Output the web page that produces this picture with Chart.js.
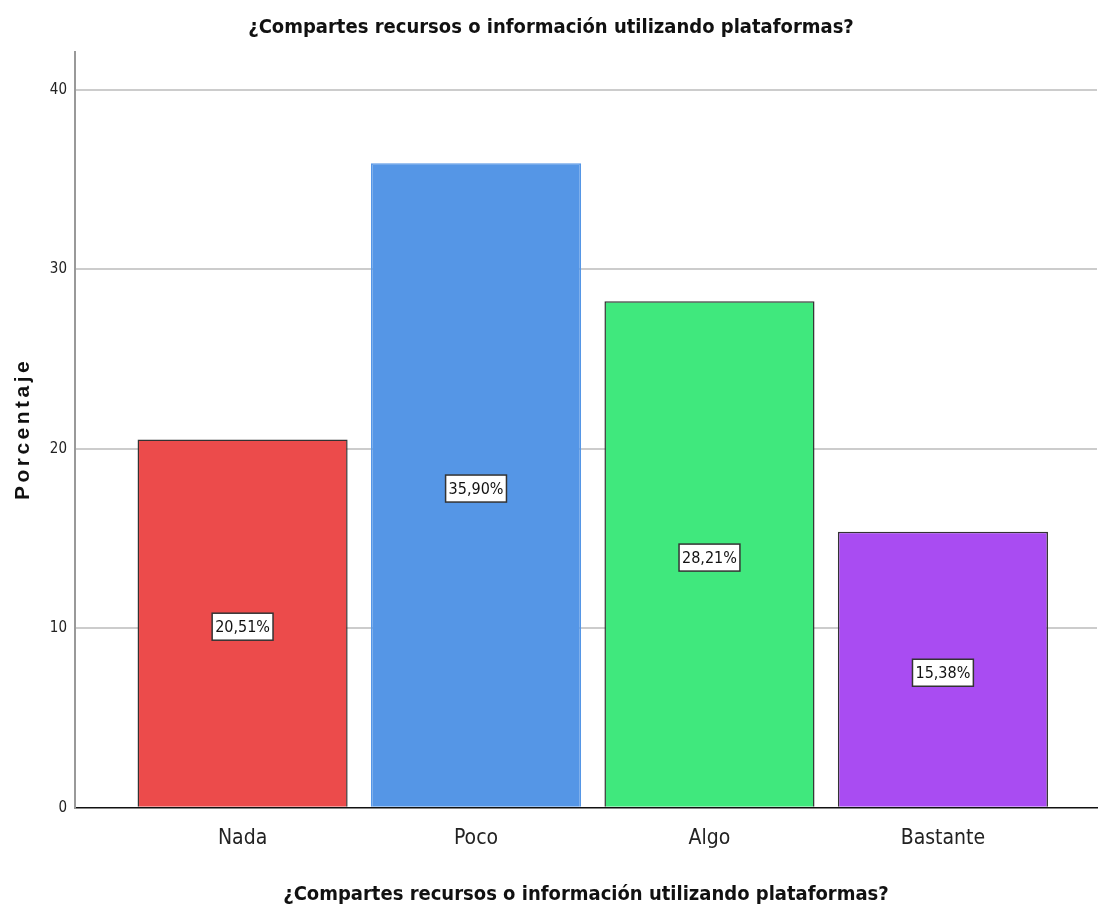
<!DOCTYPE html>
<html>
<head>
<meta charset="utf-8">
<script src="https://cdn.jsdelivr.net/npm/chart.js@4/dist/chart.umd.min.js"></script>
<style>
html,body{margin:0;padding:0;background:#fff;}
#wrap{width:1099px;height:915px;}
</style>
</head>
<body>
<div id="wrap"><canvas id="c" width="1099" height="915"></canvas></div>
<script>
const categories = ["Nada", "Poco", "Algo", "Bastante"];
const percentages = [20.51, 35.90, 28.21, 15.38];
const valueLabels = ["20,51%", "35,90%", "28,21%", "15,38%"];
const yTicks = [0, 10, 20, 30, 40];
const barColors = ["#EC4B4B", "#5596E6", "#40E87D", "#A94CF2"];
const barBorders = ["#333333", "#5596E6", "#333333", "#333333"];
const titleText = "¿Compartes recursos o información utilizando plataformas?";
const yTitleText = "Porcentaje";

const NARROW = '"Liberation Sans Narrow", "Arial Narrow", "DejaVu Sans Condensed", sans-serif';
const WIDE = '"Liberation Sans", Arial, sans-serif';

const extras = {
  id: 'extras',
  afterDatasetsDraw(chart) {
    const ctx = chart.ctx;
    const meta = chart.getDatasetMeta(0);
    const ys = chart.scales.y;
    ctx.save();
    ctx.font = '16px ' + NARROW;
    ctx.textAlign = 'center';
    ctx.textBaseline = 'middle';
    meta.data.forEach((bar, i) => {
      const cy = ys.getPixelForValue(percentages[i] / 2) + 3;
      const t = valueLabels[i];
      const w = ctx.measureText(t).width + 6;
      const h = 27;
      ctx.fillStyle = '#fff';
      ctx.fillRect(bar.x - w / 2, cy - h / 2, w, h);
      ctx.strokeStyle = '#333';
      ctx.lineWidth = 1.5;
      ctx.strokeRect(bar.x - w / 2, cy - h / 2, w, h);
      ctx.fillStyle = '#111';
      ctx.fillText(t, bar.x, cy + 1);
    });
    ctx.restore();
  },
  afterDraw(chart) {
    const ctx = chart.ctx;
    const area = chart.chartArea;
    ctx.save();
    ctx.translate(23, (area.top + area.bottom) / 2 - 1);
    ctx.rotate(-Math.PI / 2);
    ctx.font = 'bold 21px ' + WIDE;
    ctx.letterSpacing = '3.5px';
    ctx.textAlign = 'center';
    ctx.textBaseline = 'middle';
    ctx.fillStyle = '#111';
    ctx.fillText(yTitleText, 0, 0);
    ctx.restore();
  }
};

new Chart(document.getElementById('c'), {
  type: 'bar',
  data: {
    datasets: [{
      data: percentages.map((v, i) => ({x: i, y: v})),
      backgroundColor: barColors,
      borderColor: barBorders,
      borderWidth: 1.5,
      categoryPercentage: 1,
      barPercentage: 0.9
    }]
  },
  options: {
    responsive: false,
    animation: false,
    layout: {padding: {left: 5, right: 2, top: 2, bottom: 8}},
    plugins: {
      legend: {display: false},
      tooltip: {enabled: false},
      title: {
        display: true,
        text: titleText,
        color: '#111',
        font: {family: NARROW, size: 20, weight: 'bold'},
        padding: {top: 14, bottom: 12}
      }
    },
    scales: {
      x: {
        type: 'linear',
        offset: false,
        min: -0.718,
        max: 3.66,
        afterBuildTicks(scale) { scale.ticks = categories.map((c, i) => ({value: i})); },
        ticks: {
          callback: (v) => categories[v],
          color: '#222',
          font: {family: NARROW, size: 21},
          padding: 18
        },
        grid: {display: false, drawTicks: false},
        border: {display: true, color: '#111', width: 1.5},
        title: {
          display: true,
          text: titleText,
          color: '#111',
          font: {family: NARROW, size: 20, weight: 'bold'},
          padding: {top: 14, bottom: 0}
        }
      },
      y: {
        min: 0,
        max: 42.1,
        afterBuildTicks(scale) { scale.ticks = yTicks.map(v => ({value: v})); },
        ticks: {
          color: '#222',
          font: {family: NARROW, size: 15},
          padding: 8
        },
        grid: {
          drawTicks: false,
          color: (c) => c.tick && c.tick.value === 0 ? 'rgba(0,0,0,0)' : '#cccccc',
          lineWidth: 2
        },
        border: {display: true, color: '#999', width: 2},
        title: {
          display: true,
          text: yTitleText,
          color: 'rgba(0,0,0,0)',
          font: {family: WIDE, size: 19, weight: 'bold'},
          padding: {top: 0, bottom: 14}
        }
      }
    }
  },
  plugins: [extras]
});
</script>
</body>
</html>
